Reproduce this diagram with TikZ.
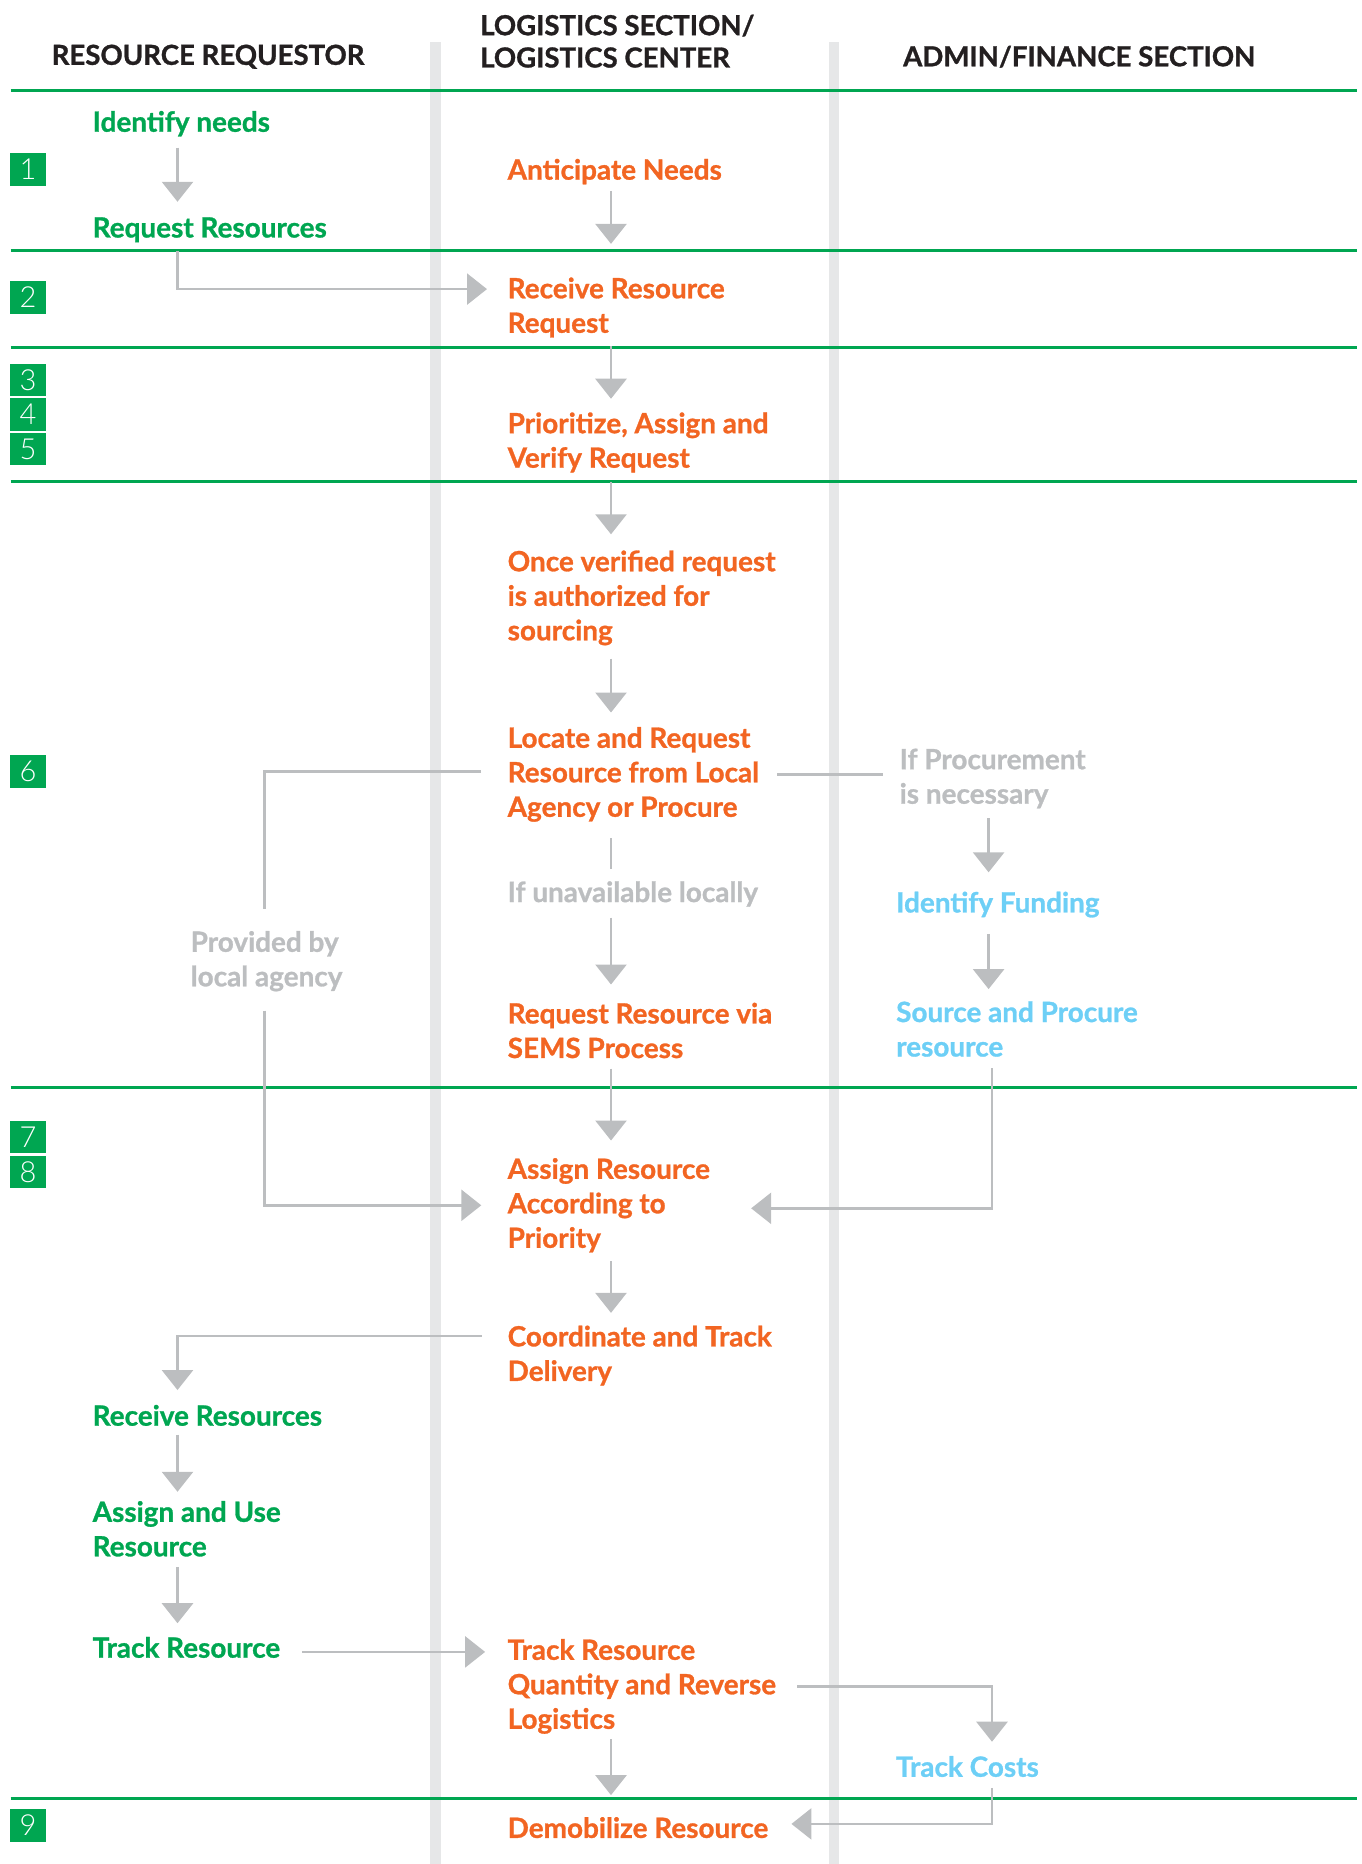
\documentclass[tikz,border=0pt]{standalone}
\usepackage{fontspec}
\setmainfont{Lato}[BoldFeatures={FakeBold=1}]
\newfontfamily\numfont{Lato Light}
\usetikzlibrary{arrows.meta}

\definecolor{lanegreen}{HTML}{00A651}
\definecolor{steporange}{HTML}{F26522}
\definecolor{finblue}{HTML}{6DCFF6}
\definecolor{flowgray}{HTML}{BCBEC0}
\definecolor{lanegray}{HTML}{E6E7E8}
\definecolor{headblack}{HTML}{231F20}

\begin{document}
\begin{tikzpicture}[x=1pt,y=-1pt]
	\tikzstyle{head}=[anchor=west,inner sep=0pt,align=left,text=headblack,font=\fontsize{27.6}{32.3}\selectfont\bfseries]
	\tikzstyle{task}=[anchor=west,inner sep=0pt,align=left,font=\fontsize{27.9}{34.5}\selectfont\bfseries]
	\tikzstyle{req}=[task,text=lanegreen]
	\tikzstyle{log}=[task,text=steporange]
	\tikzstyle{fin}=[task,text=finblue]
	\tikzstyle{cond}=[task,text=flowgray]
	\tikzstyle{num}=[fill=lanegreen,text=white,minimum width=35.5pt,minimum height=32.5pt,inner sep=0pt,font=\fontsize{29}{29}\numfont]
	\tikzstyle{flow}=[draw=flowgray,line width=2.7pt,-{Triangle[length=20pt,width=31pt]}]
	\tikzstyle{link}=[draw=flowgray,line width=2.7pt]
	\useasboundingbox (0,0) rectangle (1361,1864);

	\fill[lanegray] (429.5,41.7) rectangle (440.5,1864);
	\fill[lanegray] (829,41.7) rectangle (839,1864);
	\foreach \y in {90.5,250.5,347.3,481.4,1087.6,1798.2}
		\draw[lanegreen,line width=3pt] (10.5,\y) -- (1357,\y);
	\foreach \k/\y in {1/169.3,2/297.5,3/380,4/414.5,5/449,6/771.4,7/1137.2,8/1172.2,9/1825.5}
		\node[num] (n\k) at (28,\y) {\k};

	\coordinate (colL) at (177.5,0);
	\coordinate (colP) at (264.8,0);
	\coordinate (colM) at (611,0);
	\coordinate (colF) at (988.6,0);
	\coordinate (colR) at (992,0);

	\node[head] (hreq) at (51.5,56.7) {RESOURCE REQUESTOR};
	\node[head] (hlog) at (480,41.2) {LOGISTICS SECTION/\\LOGISTICS CENTER};
	\node[head] (hadm) at (903,56.7) {ADMIN/FINANCE SECTION};

	\node[req] (idn) at (92.5,123.7) {Identify needs};
	\node[req] (reqres) at (92.5,229.7) {Request Resources};
	\node[log] (antic) at (507.5,171.6) {Anticipate Needs};
	\node[log] (recv) at (507.5,307.5) {Receive Resource\\Request};
	\node[log] (prio) at (507.5,442.4) {Prioritize, Assign and\\Verify Request};
	\node[log] (once) at (507.5,597.9) {Once verified request\\is authorized for\\sourcing};
	\node[log] (locate) at (507.5,774.4) {Locate and Request\\Resource from Local\\Agency or Procure};
	\node[cond] (ifproc) at (899.5,778.5) {If Procurement\\is necessary};
	\node[cond] (unavail) at (507.5,894) {If unavailable locally};
	\node[fin] (fund) at (896,904.6) {Identify Funding};
	\node[cond] (provided) at (190.5,961.2) {Provided by\\local agency};
	\node[log] (sems) at (507.5,1030.5) {Request Resource via\\SEMS Process};
	\node[fin] (source) at (896,1029) {Source and Procure\\resource};
	\node[log] (assign) at (507.5,1205.3) {Assign Resource\\According to\\Priority};
	\node[log] (coord) at (507.5,1355.6) {Coordinate and Track\\Delivery};
	\node[req] (recvres) at (92.5,1415.4) {Receive Resources};
	\node[req] (use) at (92.5,1528.8) {Assign and Use\\Resource};
	\node[req] (trackg) at (92.5,1647.4) {Track Resource};
	\node[log] (trackq) at (507.5,1686.4) {Track Resource\\Quantity and Reverse\\Logistics};
	\node[fin] (costs) at (896,1766.5) {Track Costs};
	\node[log] (demob) at (507.5,1827.6) {Demobilize Resource};

	\draw[flow,shorten <=11.1pt,shorten >=15.3pt] (idn.south -| colL) -- (reqres.north -| colL);
	\draw[flow,shorten <=6.4pt,shorten >=33.5pt] (antic.south -| colM) -- (recv.north -| colM);
	\draw[flow,shorten <=8.4pt,shorten >=20.5pt] (reqres.south -| colL) |- ([yshift=18.4pt]recv.west);
	\draw[flow,shorten <=8.6pt,shorten >=13.5pt] (recv.south -| colM) -- (prio.north -| colM);
	\draw[flow,shorten <=9.6pt,shorten >=16pt] (prio.south -| colM) -- (once.north -| colM);
	\draw[flow,shorten <=13.2pt,shorten >=14.3pt] (once.south -| colM) -- (locate.north -| colM);
	\draw[link,shorten <=16.1pt,shorten >=12.1pt] (locate.south -| colM) -- (unavail.north -| colM);
	\draw[flow,shorten <=10.8pt,shorten >=18.1pt] (unavail.south -| colM) -- (sems.north -| colM);
	\draw[flow,shorten <=10.3pt,shorten >=17.4pt] (sems.south -| colM) -- (assign.north -| colM);
	\draw[flow,shorten <=8.5pt,shorten >=12.6pt] (assign.south -| colM) -- (coord.north -| colM);
	\draw[link,shorten <=26.3pt,shorten >=21.5pt] ([yshift=3pt]locate.west) -| (provided.north -| colP);
	\draw[flow,shorten <=19.2pt,shorten >=26.2pt] (provided.south -| colP) |- (assign.west);
	\draw[link,shorten <=18pt,shorten >=17pt] (locate.east) -- (locate.east -| ifproc.west);
	\draw[flow,shorten <=9.9pt,shorten >=19.2pt] (ifproc.south -| colF) -- (fund.north -| colF);
	\draw[flow,shorten <=16.2pt,shorten >=12pt] (fund.south -| colF) -- (source.north -| colF);
	\draw[flow,shorten <=11.4pt,shorten >=41pt] (source.south -| colR) |- ([yshift=-3pt]assign.east);
	\draw[flow,shorten <=26pt,shorten >=14.7pt] ([yshift=19.6pt]coord.west) -| (recvres.north -| colL);
	\draw[flow,shorten <=8.6pt,shorten >=9.1pt] (recvres.south -| colL) -- (use.north -| colL);
	\draw[flow,shorten <=10.2pt,shorten >=13.5pt] (use.south -| colL) -- (trackg.north -| colL);
	\draw[flow,shorten <=21.5pt,shorten >=22.4pt] ([yshift=-4.5pt]trackg.east) -- ([yshift=-4.5pt]trackg.east -| trackq.west);
	\draw[flow,shorten <=21pt,shorten >=14.1pt] (trackq.east) -| (costs.north -| colR);
	\draw[flow,shorten <=5.4pt,shorten >=21.8pt] (trackq.south -| colM) -- (demob.north -| colM);
	\draw[flow,shorten <=10.8pt,shorten >=23pt] (costs.south -| colR) |- ([yshift=3.7pt]demob.east);
\end{tikzpicture}
\end{document}
